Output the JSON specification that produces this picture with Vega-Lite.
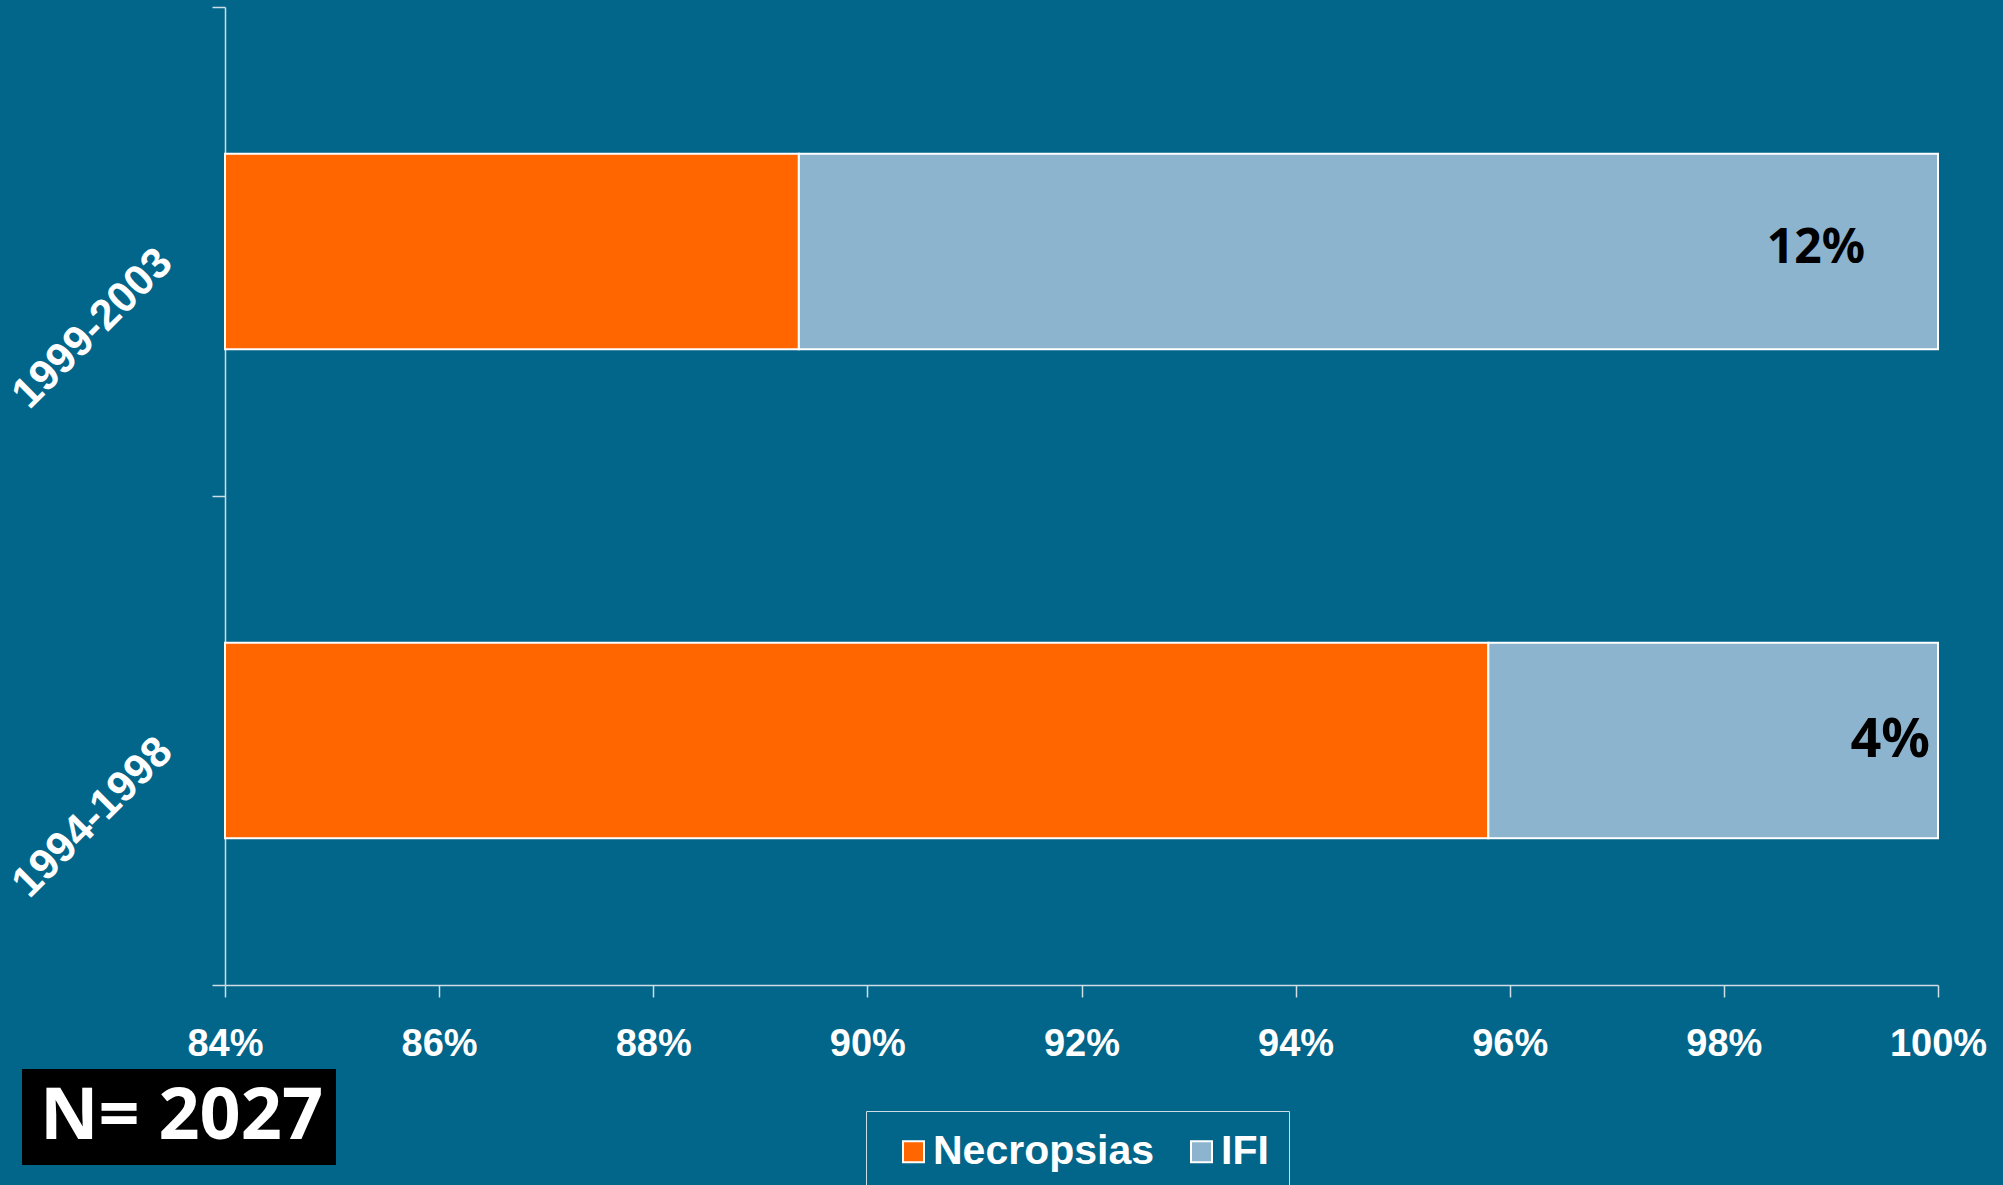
{
  "$schema": "https://vega.github.io/schema/vega-lite/v6.json",
  "autosize": "none",
  "width": 1713,
  "height": 978,
  "padding": {"left": 225, "top": 7, "right": 65, "bottom": 200},
  "background": "#02658a",
  "config": {
    "view": {"stroke": null},
    "axis": {
      "domainColor": "#cfdde6",
      "tickColor": "#cfdde6",
      "domainWidth": 1.5,
      "tickWidth": 1.5,
      "grid": false,
      "labelColor": "white",
      "labelFont": "Liberation Sans",
      "labelFontWeight": "bold",
      "labelLimit": 0,
      "title": null
    }
  },
  "data": {
    "values": [
      {"period": "1999-2003", "series": "Necropsias", "value": 89.36, "label": ""},
      {"period": "1999-2003", "series": "IFI", "value": 10.64, "label": "12%"},
      {"period": "1994-1998", "series": "Necropsias", "value": 95.80, "label": ""},
      {"period": "1994-1998", "series": "IFI", "value": 4.20, "label": "4%"}
    ]
  },
  "encoding": {
    "y": {
      "field": "period",
      "type": "nominal",
      "scale": {"domain": ["1999-2003", "1994-1998"], "paddingInner": 0, "paddingOuter": 0},
      "axis": {
        "tickBand": "extent",
        "tickSize": 13,
        "labelAngle": -45,
        "labelFontSize": 43,
        "labelPadding": 47,
        "labelOffset": 4
      }
    }
  },
  "layer": [
    {
      "mark": {"type": "bar", "height": {"band": 0.4}, "stroke": "white", "strokeWidth": 2},
      "encoding": {
        "x": {
          "field": "value",
          "type": "quantitative",
          "stack": "zero",
          "scale": {"domain": [84, 100], "clamp": true, "nice": false, "zero": false},
          "axis": {
            "values": [84, 86, 88, 90, 92, 94, 96, 98, 100],
            "labelExpr": "datum.value + '%'",
            "labelFlush": false,
            "tickSize": 12,
            "labelFontSize": 38,
            "labelPadding": 28
          }
        },
        "order": {"field": "series", "sort": "descending"},
        "color": {
          "field": "series",
          "type": "nominal",
          "scale": {"domain": ["Necropsias", "IFI"], "range": ["#ff6600", "#8db4cf"]},
          "legend": {
            "title": null,
            "orient": "none",
            "legendX": 641,
            "legendY": 1104,
            "direction": "horizontal",
            "strokeColor": "#cfdde6",
            "padding": 20,
            "columnPadding": 19,
            "symbolType": "square",
            "symbolSize": 441,
            "symbolOffset": 7,
            "symbolStrokeColor": "white",
            "symbolStrokeWidth": 2,
            "symbolOpacity": 1,
            "labelOffset": -1,
            "labelFontSize": 41,
            "labelFont": "Liberation Sans",
            "labelFontWeight": "bold",
            "labelColor": "white",
            "labelLimit": 0
          }
        }
      }
    },
    {
      "transform": [{"filter": "datum.period == '1999-2003' && datum.series == 'IFI'"}],
      "mark": {"type": "text", "align": "right", "baseline": "middle", "dx": -73, "dy": -3, "font": "Noto Sans", "fontWeight": "bold", "fontSize": 48, "color": "black"},
      "encoding": {
        "x": {"datum": 100, "type": "quantitative"},
        "text": {"field": "label"}
      }
    },
    {
      "transform": [{"filter": "datum.period == '1994-1998' && datum.series == 'IFI'"}],
      "mark": {"type": "text", "align": "right", "baseline": "middle", "dx": -8, "dy": 0, "font": "Noto Sans", "fontWeight": "bold", "fontSize": 54, "color": "black"},
      "encoding": {
        "x": {"datum": 100, "type": "quantitative"},
        "text": {"field": "label"}
      }
    },
    {
      "transform": [{"filter": "datum.series == 'IFI'"}],
      "mark": {"type": "point", "opacity": 0},
      "encoding": {
        "x": {"datum": 100, "type": "quantitative"},
        "shape": {
          "datum": "N= 2027",
          "legend": {
            "title": null,
            "orient": "none",
            "legendX": -203,
            "legendY": 1062,
            "fillColor": "black",
            "padding": 12,
            "symbolType": "square",
            "symbolSize": 1,
            "symbolOpacity": 0,
            "symbolStrokeWidth": 0,
            "labelOffset": -66,
            "labelAlign": "left",
            "labelFontSize": 72,
            "labelFont": "Noto Sans",
            "labelFontWeight": "bold",
            "labelColor": "white",
            "labelLimit": 0
          }
        }
      }
    }
  ]
}
